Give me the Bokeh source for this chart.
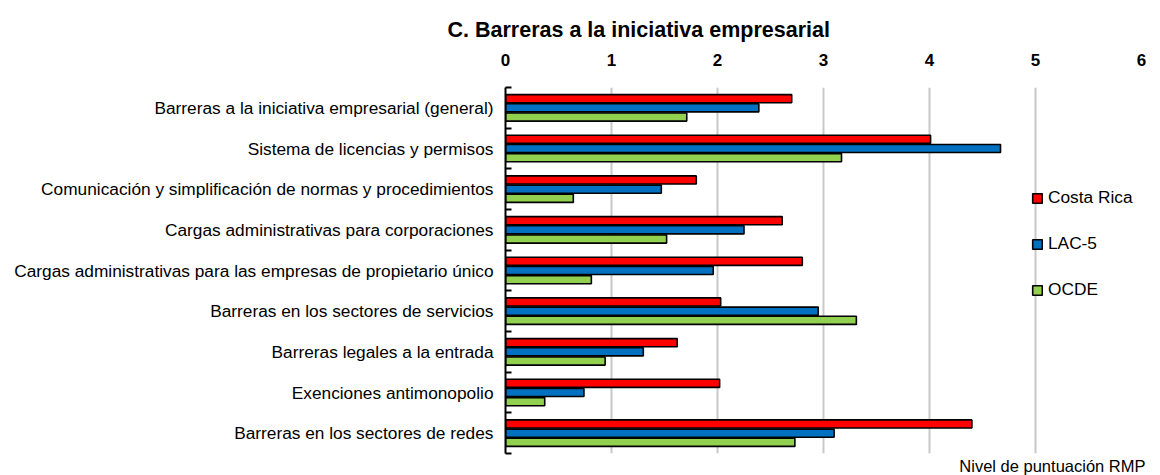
from bokeh.plotting import figure
from bokeh.models import ColumnDataSource, FixedTicker, Range1d, Legend, LegendItem, Title
from bokeh.embed import file_html
from bokeh.resources import INLINE

categories = [
    "Barreras a la iniciativa empresarial (general)",
    "Sistema de licencias y permisos",
    "Comunicación y simplificación de normas y procedimientos",
    "Cargas administrativas para corporaciones",
    "Cargas administrativas para las empresas de propietario único",
    "Barreras en los sectores de servicios",
    "Barreras legales a la entrada",
    "Exenciones antimonopolio",
    "Barreras en los sectores de redes",
]
costa_rica = [2.70, 4.01, 1.80, 2.61, 2.80, 2.03, 1.62, 2.02, 4.40]
lac5 = [2.39, 4.67, 1.47, 2.25, 1.96, 2.95, 1.30, 0.74, 3.10]
ocde = [1.71, 3.17, 0.64, 1.52, 0.81, 3.31, 0.94, 0.37, 2.73]
series_names = ["Costa Rica", "LAC-5", "OCDE"]
series_colors = ["#FF0000", "#0070C0", "#92D050"]
x_ticks = [0, 1, 2, 3, 4, 5, 6]
title_text = "C. Barreras a la iniciativa empresarial"
x_label = "Nivel de puntuación RMP"

FONT = "Liberation Sans"
n = len(categories)
centers = [n - 0.5 - i for i in range(n)]
bounds = [float(i) for i in range(n + 1)]
pitch = 0.226

src = ColumnDataSource(dict(
    cat=categories,
    y_cr=[c + pitch for c in centers],
    y_lac=centers,
    y_oc=[c - pitch for c in centers],
    cr=costa_rica, lac=lac5, oc=ocde,
))

p = figure(width=1160, height=475, x_range=Range1d(0, 6), y_range=Range1d(0, n),
           x_axis_location="above", output_backend="svg", toolbar_location=None,
           min_border_left=505, min_border_right=19, min_border_top=87, min_border_bottom=22)
p.outline_line_color = None
p.background_fill_color = "white"

renderers = []
for ycol, xcol, col in [("y_cr", "cr", series_colors[0]), ("y_lac", "lac", series_colors[1]), ("y_oc", "oc", series_colors[2])]:
    r = p.hbar(y=ycol, left=0, right=xcol, height=0.2, source=src,
               fill_color=col, line_color="black", line_width=1.6)
    renderers.append(r)

# x axis (top)
xa = p.xaxis[0]
xa.ticker = FixedTicker(ticks=x_ticks)
xa.axis_line_color = None
xa.major_tick_line_color = None
xa.minor_tick_line_color = None
xa.major_label_text_font = FONT
xa.major_label_text_font_size = "17px"
xa.major_label_text_font_style = "bold"
xa.major_label_text_color = "black"
xa.major_label_standoff = 16

p.xgrid.ticker = FixedTicker(ticks=x_ticks[1:])
p.xgrid.grid_line_color = "#C8C8C8"
p.xgrid.grid_line_width = 2
p.ygrid.grid_line_color = None

ya = p.yaxis[0]
ya.ticker = FixedTicker(ticks=centers, minor_ticks=bounds)
ya.major_label_overrides = {c: name for c, name in zip(centers, categories)}
ya.major_tick_line_color = None
ya.major_tick_in = 0
ya.major_tick_out = 0
ya.minor_tick_in = 6
ya.minor_tick_out = 0
ya.minor_tick_line_width = 2
ya.minor_tick_line_color = "black"
ya.axis_line_width = 2
ya.axis_line_color = "black"
ya.major_label_text_font = FONT
ya.major_label_text_font_size = "17.3px"
ya.major_label_text_color = "black"
ya.major_label_standoff = 12

legend = Legend(items=[LegendItem(label=nm, renderers=[r]) for nm, r in zip(series_names, renderers)],
                location=(526, 153), orientation="vertical")
legend.label_text_font = FONT
legend.label_text_font_size = "17.3px"
legend.label_text_color = "black"
legend.glyph_width = 12
legend.glyph_height = 12
legend.label_height = 20
legend.spacing = 25
legend.padding = 0
legend.margin = 0
legend.label_standoff = 5
legend.border_line_color = None
legend.background_fill_alpha = 0
p.add_layout(legend)

t = Title(text=title_text, align="left", offset=-58, text_font=FONT, text_font_size="21.5px",
          text_font_style="bold", text_color="black", standoff=18)
p.add_layout(t, "above")

xl = Title(text=x_label, align="right", offset=-4, text_font=FONT, text_font_size="16.5px",
           text_font_style="normal", text_color="black", standoff=2)
p.add_layout(xl, "below")

open("out.html", "w").write(file_html(p, INLINE))
